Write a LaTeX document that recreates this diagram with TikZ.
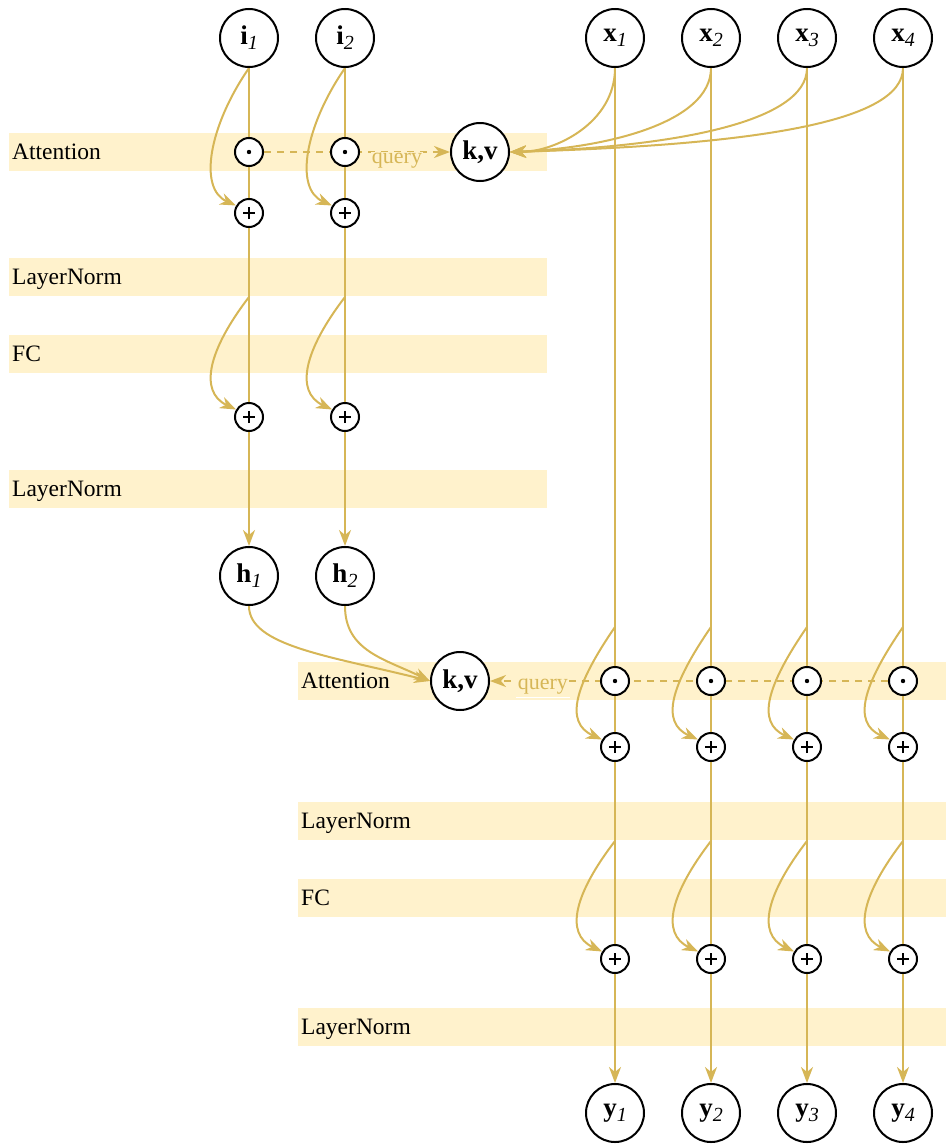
\documentclass[tikz,border=0pt]{standalone}
\usepackage{fontspec}
\setmainfont{Liberation Serif}
\usetikzlibrary{arrows.meta,backgrounds}
\definecolor{gold}{HTML}{D6B656}
\definecolor{bandc}{HTML}{FFF2CC}
\pgfdeclarelayer{edges}
\pgfsetlayers{background,edges,main}
\newcommand\mylab[2]{\textbf{#1}\raisebox{-5pt}{\fontsize{20}{20}\selectfont\itshape #2}}
\tikzset{
  big/.style={circle,draw=black,line width=2pt,fill=white,minimum size=58pt,inner sep=0pt,font=\fontsize{27}{27}\selectfont},
  small/.style={circle,draw=black,line width=2pt,fill=white,minimum size=28pt,inner sep=0pt},
  dotop/.style={small,path picture={\fill[black] (path picture bounding box.center) circle (2.2pt);}},
  plusop/.style={small,path picture={
     \draw[black,line width=1.4pt] ([xshift=-6pt]path picture bounding box.center) -- ([xshift=6pt]path picture bounding box.center);
     \draw[black,line width=1.4pt] ([yshift=-6pt]path picture bounding box.center) -- ([yshift=6pt]path picture bounding box.center);}},
  bandlabel/.style={anchor=base west,font=\fontsize{23.5}{23.5}\selectfont,inner sep=0pt},
  flow/.style={draw=gold,line width=2pt},
  tip/.style={-{Stealth[length=16pt,width=12pt,inset=5pt]}},
  qline/.style={flow,dash pattern=on 7pt off 6pt},
  qlabel/.style={text=gold,font=\fontsize{22}{22}\selectfont,inner sep=1pt,fill=bandc}
}
\begin{document}
\begin{tikzpicture}[x=1pt,y=-1pt]
\useasboundingbox (0,0) rectangle (946,1146);
% bands
\begin{scope}[on background layer]
\fill[bandc] (9,133) rectangle (547,171);
\fill[bandc] (9,258) rectangle (547,296);
\fill[bandc] (9,335) rectangle (547,373);
\fill[bandc] (9,470) rectangle (547,508);
\fill[bandc] (298,662) rectangle (946,700);
\fill[bandc] (298,802) rectangle (946,840);
\fill[bandc] (298,879) rectangle (946,917);
\fill[bandc] (298,1008) rectangle (946,1046);
\end{scope}
\node[bandlabel] (t1) at (12,159) {Attention};
\node[bandlabel] (t2) at (12,284) {LayerNorm};
\node[bandlabel] (t3) at (12,361) {FC};
\node[bandlabel] (t4) at (12,496) {LayerNorm};
\node[bandlabel] (b1) at (301,688) {Attention};
\node[bandlabel] (b2) at (301,828) {LayerNorm};
\node[bandlabel] (b3) at (301,905) {FC};
\node[bandlabel] (b4) at (301,1034) {LayerNorm};
% top part nodes
\foreach \n/\xx in {1/249,2/345}{
  \node[big] (i\n) at (\xx,38) {\mylab{i}{\n}};
  \node[dotop] (d\n) at (\xx,152) {};
  \node[plusop] (pa\n) at (\xx,213) {};
  \node[plusop] (pb\n) at (\xx,417) {};
  \node[big] (h\n) at (\xx,576) {\mylab{h}{\n}};
  \coordinate (rb\n) at (\xx,297);
}
\node[big] (kv1) at (480,152) {\textbf{k,v}};
\node[big] (kv2) at (460,681) {\textbf{k,v}};
\foreach \n/\xx in {1/615,2/711,3/807,4/903}{
  \node[big] (x\n) at (\xx,38) {\mylab{x}{\n}};
  \node[dotop] (e\n) at (\xx,681) {};
  \node[plusop] (pc\n) at (\xx,747) {};
  \node[plusop] (pd\n) at (\xx,959) {};
  \node[big] (y\n) at (\xx,1113) {\mylab{y}{\n}};
  \coordinate (rc\n) at (\xx,627);
  \coordinate (rd\n) at (\xx,841);
}
\begin{pgfonlayer}{edges}
\foreach \n in {1,2}{
  \draw[flow,tip] (i\n) -- (h\n);
  \draw[flow,tip] (i\n.south) .. controls +(-40,58) and +(-38,-17) .. (pa\n.150);
  \draw[flow,tip] (rb\n) .. controls +(-40,52) and +(-38,-18) .. (pb\n.150);
}
\foreach \n in {1,2,3,4}{
  \draw[flow,tip] (x\n) -- (y\n);
  \draw[flow,tip] (rc\n) .. controls +(-40,58) and +(-38,-17) .. (pc\n.150);
  \draw[flow,tip] (rd\n) .. controls +(-40,52) and +(-38,-18) .. (pd\n.150);
}
\draw[flow,tip] (x1.south) .. controls +(0,55) and +(45,0) .. (kv1.east);
\draw[flow,tip] (x2.south) .. controls +(0,55) and +(95,-4) .. (kv1.east);
\draw[flow,tip] (x3.south) .. controls +(0,55) and +(160,-5) .. (kv1.east);
\draw[flow,tip] (x4.south) .. controls +(0,55) and +(240,-7) .. (kv1.east);
\draw[flow,tip] (h1.south) .. controls +(0,40) and +(-100,-25) .. (kv2.west);
\draw[flow,tip] (h2.south) .. controls +(0,45) and +(-45,-22) .. (kv2.west);
\draw[qline,tip] (d1) -- (kv1.west) node[qlabel,pos=0.715,yshift=-9pt] (q1) {query};
\draw[qline,tip] (e4) -- (kv2.east) node[qlabel,pos=0.867,yshift=-6pt] (q2) {query};
\draw[white,line width=1.5pt] ([yshift=-1pt]q1.south west) -- ([yshift=-1pt]q1.south east);
\draw[white,line width=1.5pt] ([yshift=-1pt]q2.south west) -- ([yshift=-1pt]q2.south east);
\end{pgfonlayer}
\end{tikzpicture}
\end{document}
